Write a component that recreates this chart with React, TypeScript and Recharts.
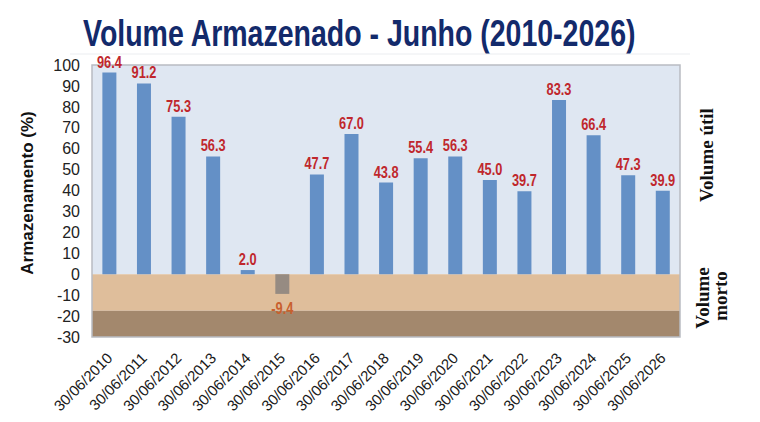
import { Bar, BarChart, Cell, LabelList, ReferenceArea, XAxis, YAxis } from 'recharts';

// Volume armazenado em 30/06 de cada ano (% do volume útil)

const dates = [
  '30/06/2010', '30/06/2011', '30/06/2012', '30/06/2013', '30/06/2014', '30/06/2015',
  '30/06/2016', '30/06/2017', '30/06/2018', '30/06/2019', '30/06/2020', '30/06/2021',
  '30/06/2022', '30/06/2023', '30/06/2024', '30/06/2025', '30/06/2026',
];
const volumes = [96.4, 91.2, 75.3, 56.3, 2.0, -9.4, 47.7, 67.0, 43.8, 55.4, 56.3, 45.0, 39.7, 83.3, 66.4, 47.3, 39.9];
const yTicks = [-30, -20, -10, 0, 10, 20, 30, 40, 50, 60, 70, 80, 90, 100];
const cota1 = [0, -17.5];
const cota2 = [-17.5, -30];

const data = dates.map((date, i) => ({ date, value: volumes[i] }));

const BAR = '#6490c6';
const BAR_NEG = '#968b82';
const LABEL = '#c0272d';
const LABEL_NEG = '#c8602e';
const SERIF = '"Liberation Serif", "DejaVu Serif", serif';
const SANS = "Arial, 'Liberation Sans', sans-serif";

// sem fonte "narrow" disponível: comprime a Liberation Sans na horizontal
function ValueLabel(props: any) {
  const { x, y, width, height, value } = props;
  const cx = x + width / 2;
  const neg = value < 0;
  const ty = neg ? Math.max(y, y + height) + 20 : y - 5;
  return (
    <text
      transform={`translate(${cx}, ${ty}) scale(0.8, 1)`}
      textAnchor="middle"
      fill={neg ? LABEL_NEG : LABEL}
      fontSize={16}
      fontWeight="bold"
      fontFamily={SANS}
    >
      {value.toFixed(1)}
    </text>
  );
}

function DateTick(props: any) {
  const { x, y, payload } = props;
  const ax = x + 4;
  const ay = y + 14;
  return (
    <text x={ax} y={ay} transform={`rotate(-45, ${ax}, ${ay})`} textAnchor="end" fill="#1a1a1a" fontSize={15} fontFamily={SANS}>
      {payload.value}
    </text>
  );
}

export default function App() {
  return (
    <div style={{ position: 'absolute', left: 0, top: 0, width: 760, height: 422, background: '#fff' }}>
      <BarChart
        width={760}
        height={422}
        data={data}
        margin={{ top: 65, right: 80, bottom: 5, left: 52 }}
        barCategoryGap="30%"
      >
        <text
          transform="translate(83, 46) scale(0.77, 1)"
          fill="#132a6b"
          fontSize={37}
          fontWeight="bold"
          fontFamily={SANS}
        >
          Volume Armazenado - Junho (2010-2026)
        </text>
        <line x1={70} y1={54} x2={690} y2={54} stroke="#ebedf0" strokeWidth={1} />
        <text
          x={33}
          y={193}
          transform="rotate(-90, 33, 193)"
          textAnchor="middle"
          fill="#111"
          fontSize={17}
          fontWeight="bold"
          fontFamily={SANS}
        >
          Armazenamento (%)
        </text>
        <ReferenceArea y1={0} y2={100} fill="#dfe7f2" fillOpacity={1} stroke="none" ifOverflow="visible" />
        <ReferenceArea y1={cota1[0]} y2={cota1[1]} fill="#dfbe9b" fillOpacity={1} stroke="none" ifOverflow="visible" />
        <ReferenceArea y1={cota2[0]} y2={cota2[1]} fill="#a3886d" fillOpacity={1} stroke="none" ifOverflow="visible" />
        <ReferenceArea y1={-30} y2={100} fill="none" stroke="#b9bcc2" strokeWidth={1.5} ifOverflow="visible" />
        <XAxis dataKey="date" interval={0} tickLine={false} axisLine={false} height={80} tick={<DateTick />} />
        <YAxis
          domain={[-30, 100]}
          ticks={yTicks}
          interval={0}
          width={40}
          tickLine={false}
          axisLine={false}
          tickSize={0}
          tickMargin={12}
          tick={{ fill: '#222', fontSize: 16, fontFamily: SANS }}
        />
        <Bar dataKey="value" fill={BAR} isAnimationActive={false}>
          {data.map((d) => (
            <Cell key={d.date} fill={d.value < 0 ? BAR_NEG : BAR} />
          ))}
          <LabelList dataKey="value" content={<ValueLabel />} />
        </Bar>
        <text x={666} y={294} textAnchor="end" fill="#222" fontSize={16} fontWeight="bold" fontFamily={SERIF}>
          Cota 1
        </text>
        <text x={666} y={328} textAnchor="end" fill="#222" fontSize={16} fontWeight="bold" fontFamily={SERIF}>
          Cota 2
        </text>
        <text x={713} y={155} transform="rotate(-90, 713, 155)" textAnchor="middle" fill="#111" fontSize={19} fontWeight="bold" fontFamily={SERIF}>
          Volume útil
        </text>
        <text x={709} y={298} transform="rotate(-90, 709, 298)" textAnchor="middle" fill="#111" fontSize={19} fontWeight="bold" fontFamily={SERIF}>
          Volume
        </text>
        <text x={727} y={296} transform="rotate(-90, 727, 296)" textAnchor="middle" fill="#111" fontSize={19} fontWeight="bold" fontFamily={SERIF}>
          morto
        </text>
      </BarChart>
    </div>
  );
}
